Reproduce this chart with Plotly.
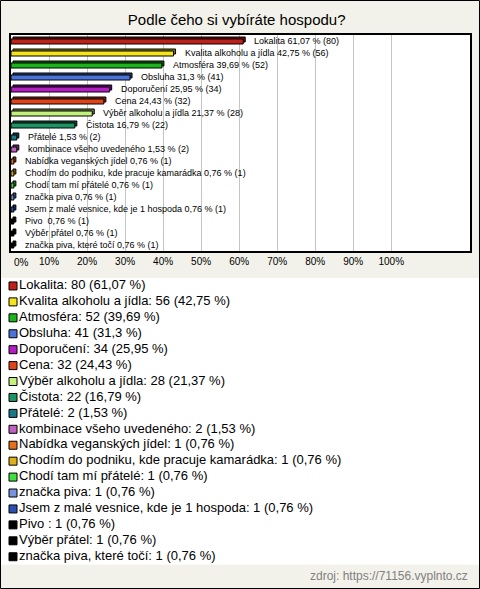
import plotly.graph_objects as go

# ---------------- data ----------------
categories = [
    "Lokalita", "Kvalita alkoholu a jídla", "Atmosféra", "Obsluha", "Doporučení",
    "Cena", "Výběr alkoholu a jídla", "Čistota", "Přátelé", "kombinace všeho uvedeného",
    "Nabídka veganských jídel", "Chodím do podniku, kde pracuje kamarádka",
    "Chodí tam mí přátelé", "značka piva", "Jsem z malé vesnice, kde je 1 hospoda",
    "Pivo\u00a0", "Výběr přátel", "značka piva, které točí",
]
counts = [80, 56, 52, 41, 34, 32, 28, 22, 2, 2, 1, 1, 1, 1, 1, 1, 1, 1]
percents = [61.07, 42.75, 39.69, 31.3, 25.95, 24.43, 21.37, 16.79, 1.53, 1.53,
            0.76, 0.76, 0.76, 0.76, 0.76, 0.76, 0.76, 0.76]
pct_text = ["61,07", "42,75", "39,69", "31,3", "25,95", "24,43", "21,37", "16,79", "1,53", "1,53",
            "0,76", "0,76", "0,76", "0,76", "0,76", "0,76", "0,76", "0,76"]
colors = ["#c0201a", "#f5e41c", "#1cb41c", "#4a74dc", "#b41cc4", "#e0441a", "#c4f07c", "#1c9464",
          "#1c7888", "#c060c4", "#e4701c", "#e0b01c", "#40e040", "#7894e0", "#3050b0",
          "#000000", "#000000", "#000000"]
tick_values = [0, 10, 20, 30, 40, 50, 60, 70, 80, 90, 100]
tick_labels = ["0%", "10%", "20%", "30%", "40%", "50%", "60%", "70%", "80%", "90%", "100%"]

title_text = "Podle čeho si vybíráte hospodu?"
source_text = "zdroj: https://71156.vyplnto.cz"

FONT = "Liberation Sans, Arial, sans-serif"
W, H = 480, 589


def darker(hex_color, f=0.55):
    h = hex_color.lstrip("#")
    r, g, b = (int(h[i:i + 2], 16) for i in (0, 2, 4))
    return "#%02x%02x%02x" % (int(r * f), int(g * f), int(b * f))


bar_labels = [f"{c} {p} % ({n})" for c, p, n in zip(categories, pct_text, counts)]
legend_labels = [f"{c}: {n} ({p} %)" for c, p, n in zip(categories, pct_text, counts)]

px_per_pct = 3.8
x_left, x_right = 11, 470
row_px = 12.0

fig = go.Figure()

# back face (3D depth)
fig.add_trace(go.Bar(
    x=percents, y=categories, orientation="h",
    base=2 / px_per_pct, width=5 / row_px, offset=-4 / row_px,
    marker=dict(color=[darker(c) for c in colors], line=dict(color="black", width=1)),
    hoverinfo="skip", xaxis="x", yaxis="y",
))
# front face
fig.add_trace(go.Bar(
    x=percents, y=categories, orientation="h",
    width=5 / row_px, offset=-2 / row_px,
    marker=dict(color=colors, line=dict(color="black", width=1)),
    hoverinfo="skip", xaxis="x", yaxis="y",
))

# legend-like list below
fig.add_trace(go.Scatter(
    x=[0] * len(categories), y=categories, mode="markers+text",
    marker=dict(symbol="square", size=8, color=colors, line=dict(color="black", width=1)),
    text=legend_labels, textposition="middle right",
    textfont=dict(size=13, color="black", family=FONT),
    cliponaxis=False, hoverinfo="skip", xaxis="x2", yaxis="y2",
))

annotations = []
for cat, val, lab in zip(categories, percents, bar_labels):
    annotations.append(dict(
        x=val, y=cat, xref="x", yref="y", text=lab, showarrow=False,
        xanchor="left", yanchor="middle", xshift=9,
        font=dict(size=9, color="black", family=FONT),
    ))
# first tick label ("0%") sits a little right of its gridline, as in the original
annotations.append(dict(
    x=tick_values[0], y=1 - 262 / H, xref="x", yref="paper", text=tick_labels[0],
    showarrow=False, xanchor="left", yanchor="middle", xshift=1,
    font=dict(size=10, color="black", family=FONT),
))
annotations.append(dict(
    x=470 / W, y=1 - 576 / H, xref="paper", yref="paper", text=source_text,
    showarrow=False, xanchor="right", yanchor="middle",
    font=dict(size=12, color="#808080", family=FONT),
))

leg_top, leg_bottom = 278.0, 564.7

fig.update_layout(
    width=W, height=H,
    margin=dict(l=0, r=0, t=0, b=0),
    paper_bgcolor="#f3f2ea",
    plot_bgcolor="white",
    barmode="overlay",
    showlegend=False,
    hovermode=False,
    font=dict(family=FONT, color="black"),
    title=dict(text=title_text, x=236.7 / W, y=1 - 20 / H, xanchor="center", yanchor="middle",
               font=dict(size=15, color="black", family=FONT)),
    xaxis=dict(
        domain=[x_left / W, x_right / W],
        range=[0, (x_right - 11.3) / px_per_pct],
        tickvals=tick_values[1:], ticktext=tick_labels[1:],
        tickfont=dict(size=10, color="black", family=FONT),
        automargin=False,
        showgrid=True, gridcolor="#c4c4c4", gridwidth=1,
        zeroline=False, showline=True, mirror=True, linecolor="black", linewidth=2,
        ticks="", fixedrange=True,
    ),
    yaxis=dict(
        domain=[1 - 251 / H, 1 - 35 / H],
        type="category", categoryorder="array", categoryarray=categories,
        range=[len(categories) - 0.5, -0.5], automargin=False,
        showticklabels=False, showgrid=False, zeroline=False,
        showline=True, mirror=True, linecolor="black", linewidth=2, ticks="",
        fixedrange=True,
    ),
    xaxis2=dict(domain=[0, 1], range=[-13, W - 13], visible=False, fixedrange=True,
                anchor="y2", automargin=False),
    yaxis2=dict(
        domain=[1 - leg_bottom / H, 1 - leg_top / H],
        type="category", categoryorder="array", categoryarray=categories,
        range=[len(categories) - 0.5, -0.5], visible=False, fixedrange=True, anchor="x2",
        automargin=False,
    ),
    annotations=annotations,
    shapes=[dict(type="rect", xref="paper", yref="paper",
                 x0=0.5 / W, x1=1 - 0.5 / W, y0=0.5 / H, y1=1 - 0.5 / H,
                 line=dict(color="black", width=1), layer="above")],
)

fig.write_html("out.html", config={"displayModeBar": False},
               post_script="document.body.style.margin='0';document.body.style.overflow='hidden';")
